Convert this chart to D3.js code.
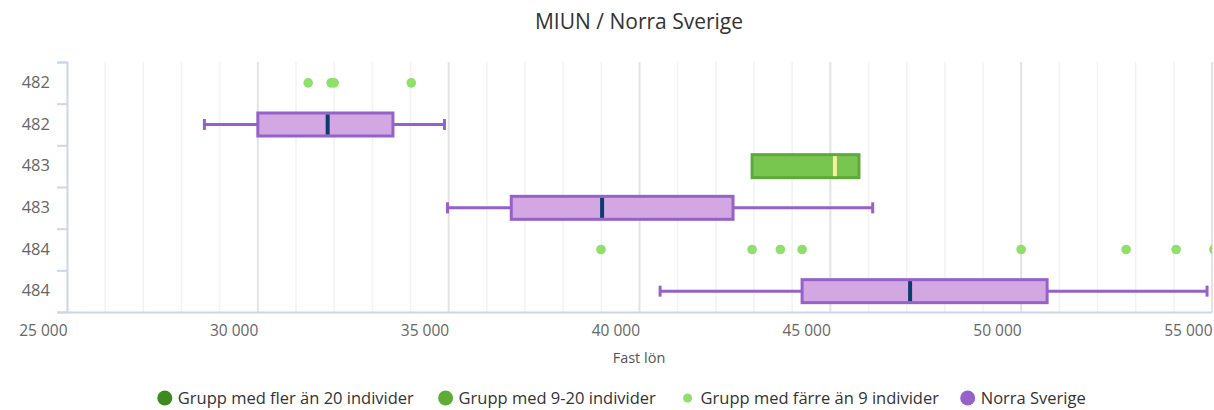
<!DOCTYPE html>
<html>
<head>
<meta charset="utf-8">
<script src="https://cdn.jsdelivr.net/npm/d3@7"></script>
<style>
    body { margin: 0; background: #fff; font-family: "Open Sans", sans-serif; }
    svg { display: block; }
</style>
</head>
<body>
<svg id="chart"></svg>
<script>
// categories on the y axis (top to bottom)
const categories = ["482", "482", "483", "483", "484", "484"];

// Norra Sverige boxes: row index, [low, q1, median, q3, high]
const regionRows = [1, 3, 5];
const regionBoxes = [
    [28600, 30000, 31830, 33540, 34890],
    [34970, 36640, 39020, 42450, 46110],
    [40540, 44260, 47090, 50680, 54870]
];

// Grupp med 9-20 individer
const midGroupRows = [2];
const midGroupBoxes = [
    [42950, 42950, 45120, 45750, 45750]
];

// Grupp med färre än 9 individer (single values)
const smallGroupRows = [0, 4];
const smallGroupValues = [
    [31320, 31920, 32000, 34020],
    [38990, 42950, 43690, 44260, 50000, 52750, 54060, 55050]
];

const xTicks = [25000, 30000, 35000, 40000, 45000, 50000, 55000];
const legendNames = ["Grupp med fler än 20 individer", "Grupp med 9-20 individer", "Grupp med färre än 9 individer", "Norra Sverige"];
const legendColors = ["#3d8b1f", "#5dac35", "#8fdf6b", "#9661c8"];

const width = 1214, height = 410;
const margin = { top: 62, right: 2, bottom: 98, left: 67 };

const svg = d3.select("#chart")
    .attr("width", width)
    .attr("height", height);

const x = d3.scaleLinear()
    .domain([25000, 55000])
    .range([margin.left, width - margin.right]);

const y = d3.scaleBand()
    .domain(d3.range(categories.length))
    .range([margin.top, height - margin.bottom]);

const yEdges = d3.scaleLinear()
    .domain([0, categories.length])
    .range([margin.top, height - margin.bottom]);

const sv = d3.formatLocale({ decimal: ",", thousands: " ", grouping: [3], currency: ["", " kr"] });
const fmt = sv.format(",d");

// title
svg.append("text")
    .attr("x", 639).attr("y", 29)
    .attr("text-anchor", "middle")
    .style("font-size", "21px")
    .style("fill", "#333")
    .text("MIUN / Norra Sverige");

// grid lines, every 1000, darker every 5000
const gridVals = d3.range(26000, 55001, 1000);
svg.append("g")
    .selectAll("line")
    .data(gridVals)
    .enter().append("line")
    .attr("x1", d => x(d)).attr("x2", d => x(d))
    .attr("y1", margin.top).attr("y2", height - margin.bottom)
    .attr("stroke", d => d % 5000 === 0 ? "#e3e3e3" : "#f2f2f2")
    .attr("stroke-width", d => d % 5000 === 0 ? 2 : 1.5);

// clip to plot area
svg.append("defs").append("clipPath").attr("id", "plot-clip")
    .append("rect")
    .attr("x", margin.left).attr("y", margin.top - 10)
    .attr("width", width - margin.left - margin.right)
    .attr("height", height - margin.top - margin.bottom + 20);

const plot = svg.append("g").attr("clip-path", "url(#plot-clip)");

const boxH = 23;
const capH = 11;

const drawBoxes = (rows, boxes, stroke, fill, medColor, withWhiskers) => {
    boxes.forEach((b, i) => {
        const cy = y(rows[i]) + y.bandwidth() / 2;
        const [low, q1, med, q3, high] = b;
        const g = plot.append("g");
        if (withWhiskers) {
            g.append("line")
                .attr("x1", x(low)).attr("x2", x(q1))
                .attr("y1", cy).attr("y2", cy)
                .attr("stroke", stroke).attr("stroke-width", 3);
            g.append("line")
                .attr("x1", x(q3)).attr("x2", x(high))
                .attr("y1", cy).attr("y2", cy)
                .attr("stroke", stroke).attr("stroke-width", 3);
            [low, high].forEach(v => {
                g.append("line")
                    .attr("x1", x(v)).attr("x2", x(v))
                    .attr("y1", cy - capH / 2).attr("y2", cy + capH / 2)
                    .attr("stroke", stroke).attr("stroke-width", 3);
            });
        }
        g.append("rect")
            .attr("x", x(q1)).attr("y", cy - boxH / 2)
            .attr("width", x(q3) - x(q1)).attr("height", boxH)
            .attr("fill", fill)
            .attr("stroke", stroke).attr("stroke-width", 3);
        g.append("line")
            .attr("x1", x(med)).attr("x2", x(med))
            .attr("y1", cy - boxH / 2 + 1.5).attr("y2", cy + boxH / 2 - 1.5)
            .attr("stroke", medColor).attr("stroke-width", 4);
    });
};

drawBoxes(regionRows, regionBoxes, "#9661c8", "#d2a7e2", "#0c3c6b", true);
drawBoxes(midGroupRows, midGroupBoxes, "#5ea93a", "#78c650", "#fcee9f", false);

// small groups
smallGroupRows.forEach((row, i) => {
    const cy = y(row) + y.bandwidth() / 2;
    plot.append("g")
        .selectAll("circle")
        .data(smallGroupValues[i])
        .enter().append("circle")
        .attr("cx", d => x(d))
        .attr("cy", cy)
        .attr("r", 4.8)
        .attr("fill", legendColors[2]);
});

// x axis
const xAxis = svg.append("g")
    .attr("transform", `translate(0,${height - margin.bottom})`)
    .call(d3.axisBottom(x).tickValues(xTicks).tickFormat(fmt).tickSize(0).tickPadding(13));
xAxis.select(".domain").attr("stroke", "#ccd6eb").attr("stroke-width", 2);
xAxis.selectAll("text")
    .attr("text-anchor", "end")
    .attr("dx", "0")
    .style("font-size", "15.5px")
    .style("font-family", "Open Sans, sans-serif")
    .style("fill", "#666");

svg.append("text")
    .attr("x", 639).attr("y", 363)
    .attr("text-anchor", "middle")
    .style("font-size", "14.5px")
    .style("fill", "#555")
    .text("Fast lön");

// y axis: boundary ticks + category labels
const yTickAxis = svg.append("g")
    .attr("transform", `translate(${margin.left},0)`)
    .call(d3.axisLeft(yEdges).tickValues(d3.range(categories.length + 1)).tickFormat("").tickSizeOuter(0).tickSize(10));
yTickAxis.select(".domain").attr("stroke", "#ccd6eb").attr("stroke-width", 2);
yTickAxis.selectAll(".tick line").attr("stroke", "#ccd6eb").attr("stroke-width", 2);

const yLabelAxis = svg.append("g")
    .attr("transform", `translate(${margin.left},0)`)
    .call(d3.axisLeft(y).tickFormat(i => categories[i]).tickSize(0).tickPadding(17));
yLabelAxis.select(".domain").remove();
yLabelAxis.selectAll("text")
    .style("font-size", "16.5px")
    .style("font-family", "Open Sans, sans-serif")
    .style("fill", "#666");

// legend
const legend = svg.append("g").attr("transform", "translate(0,398)");
const items = legend.selectAll("g")
    .data(legendNames)
    .enter().append("g");
items.append("circle")
    .attr("r", (d, i) => i === 2 ? 4.5 : 7.5)
    .attr("cx", 7)
    .attr("cy", 0)
    .attr("fill", (d, i) => legendColors[i]);
items.append("text")
    .attr("x", 20)
    .attr("y", 5.5)
    .style("font-size", "16.5px")
    .style("fill", "#333")
    .text(d => d);

let offset = 0;
const itemX = [];
items.each(function () {
    itemX.push(offset);
    offset += this.getBBox().width + 24;
});
const legendStart = 622 - (offset - 24) / 2;
items.attr("transform", (d, i) => `translate(${legendStart + itemX[i]},0)`);
</script>
</body>
</html>
